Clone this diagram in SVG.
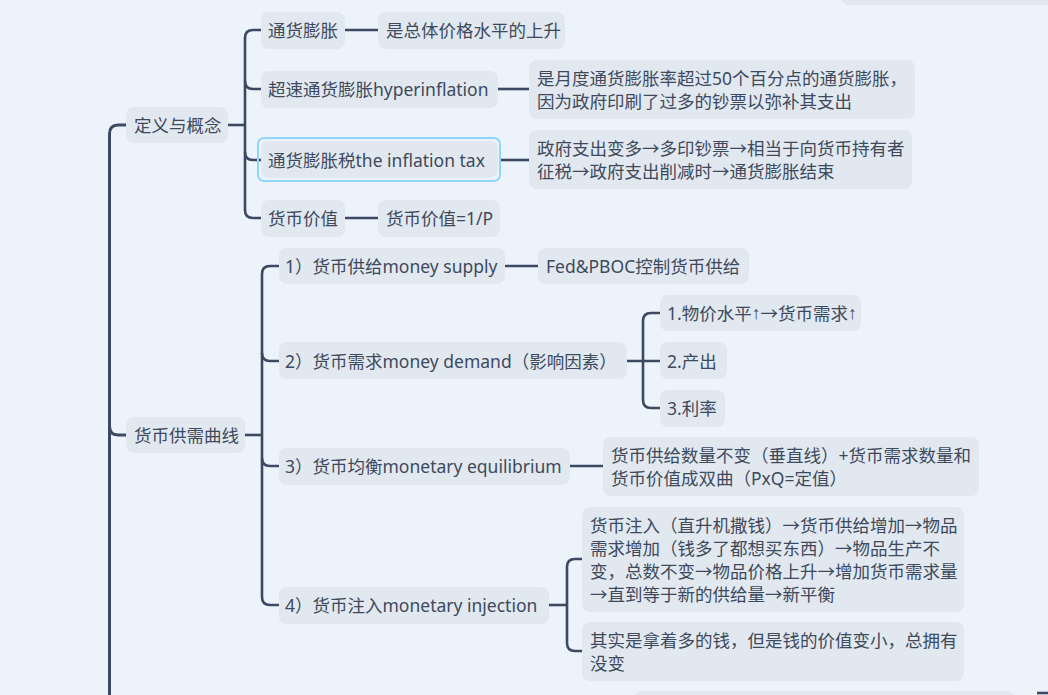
<svg xmlns="http://www.w3.org/2000/svg" width="1048" height="695" viewBox="0 0 1048 695">
<style>
.bg{fill:#ecf3fa}
.n{fill:#e1e8f0}
.t{font-family:"Noto Sans","Noto Sans CJK SC",sans-serif;font-size:17.5px;fill:#3e4a5c;dominant-baseline:central}
.ar{font-family:"Liberation Sans",sans-serif}
.c{fill:none;stroke:#3b4a62;stroke-width:2.6;stroke-linecap:butt}
.trunk{stroke-width:3}
.sel{fill:none;stroke:#8ed6fb;stroke-width:2}
</style>
<rect class="bg" x="0" y="0" width="1048" height="695"/>
<g id="connectors">
<path class="c trunk" d="M126,125 H118 Q109.5,125 109.5,134 V695"/>
<path class="c trunk" d="M109.5,426 Q109.5,435 118,435 H126"/>
<path class="c" d="M228,125 H245"/>
<path class="c" d="M261,30 H253 Q245,30 245,38 V210 Q245,218 253,218 H261"/>
<path class="c" d="M245,81 Q245,89 253,89 H261"/>
<path class="c" d="M245,152 Q245,160 253,160 H261"/>
<path class="c" d="M345,30 H378"/>
<path class="c" d="M498,89 H529"/>
<path class="c" d="M501,160 H529"/>
<path class="c" d="M345,218 H378"/>
<path class="c" d="M245,435 H262"/>
<path class="c" d="M279,266 H270 Q262,266 262,274 V597 Q262,605 270,605 H279"/>
<path class="c" d="M262,353 Q262,361 270,361 H279"/>
<path class="c" d="M262,458 Q262,466 270,466 H279"/>
<path class="c" d="M505,266 H538"/>
<path class="c" d="M627,361 H660"/>
<path class="c" d="M660,313 H651 Q643,313 643,321 V400 Q643,408 651,408 H660"/>
<path class="c" d="M570,466 H603"/>
<path class="c" d="M549,605 H567"/>
<path class="c" d="M582,559 H575 Q567,559 567,567 V643 Q567,651 575,651 H582"/>
<path class="c" d="M1037,693 H1048"/>
</g>
<g id="partial-top">
<rect class="n" x="841" y="-30" width="230" height="35" rx="8"/>
</g>
<g id="partial-bottom">
<rect class="n" x="634" y="691" width="381" height="40" rx="8"/>
</g>
<g id="n-def">
<rect class="n" x="126" y="107" width="102" height="36" rx="8"/>
<text class="t" x="134" y="125">定义与概念</text>
</g>
<g id="n-inflation">
<rect class="n" x="261" y="12" width="84" height="37" rx="8"/>
<text class="t" x="268" y="30">通货膨胀</text>
</g>
<g id="n-inflation-d">
<rect class="n" x="378" y="12" width="187" height="37" rx="8"/>
<text class="t" x="386" y="30">是总体价格水平的上升</text>
</g>
<g id="n-hyper">
<rect class="n" x="261" y="71" width="237" height="37" rx="8"/>
<text class="t" x="268" y="89">超速通货膨胀hyperinflation</text>
</g>
<g id="n-hyper-d">
<rect class="n" x="529" y="60" width="386" height="59" rx="8"/>
<text class="t" x="537" y="78">是月度通货膨胀率超过50个百分点的通货膨胀，</text>
<text class="t" x="537" y="101">因为政府印刷了过多的钞票以弥补其支出</text>
</g>
<g id="n-tax">
<rect class="n" x="261" y="141" width="237" height="37" rx="8"/>
<rect class="sel" x="258" y="138" width="242" height="43" rx="6"/>
<text class="t" x="268" y="160">通货膨胀税the inflation tax</text>
</g>
<g id="n-tax-d">
<rect class="n" x="529" y="130" width="383" height="59" rx="8"/>
<text class="t" x="537" y="148">政府支出变多→多印钞票→相当于向货币持有者</text>
<text class="t" x="537" y="171">征税→政府支出削减时→通货膨胀结束</text>
</g>
<g id="n-value">
<rect class="n" x="261" y="200" width="84" height="37" rx="8"/>
<text class="t" x="268" y="218">货币价值</text>
</g>
<g id="n-value-d">
<rect class="n" x="378" y="200" width="122" height="37" rx="8"/>
<text class="t" x="386" y="218">货币价值=1/P</text>
</g>
<g id="n-curve">
<rect class="n" x="126" y="417" width="119" height="36" rx="8"/>
<text class="t" x="134" y="435">货币供需曲线</text>
</g>
<g id="n-supply">
<rect class="n" x="279" y="248" width="226" height="36" rx="8"/>
<text class="t" x="285" y="266">1）货币供给money supply</text>
</g>
<g id="n-supply-d">
<rect class="n" x="538" y="248" width="211" height="36" rx="8"/>
<text class="t" x="546" y="266">Fed&amp;PBOC控制货币供给</text>
</g>
<g id="n-demand">
<rect class="n" x="279" y="342" width="348" height="37" rx="8"/>
<text class="t" x="285" y="361">2）货币需求money demand（影响因素）</text>
</g>
<g id="n-d1">
<rect class="n" x="660" y="295" width="201" height="36" rx="8"/>
<text class="t" x="667" y="313">1.物价水平<tspan class="ar">↑</tspan>→货币需求<tspan class="ar">↑</tspan></text>
</g>
<g id="n-d2">
<rect class="n" x="660" y="342" width="67" height="37" rx="8"/>
<text class="t" x="667" y="361">2.产出</text>
</g>
<g id="n-d3">
<rect class="n" x="660" y="390" width="65" height="37" rx="8"/>
<text class="t" x="667" y="408">3.利率</text>
</g>
<g id="n-eq">
<rect class="n" x="279" y="448" width="291" height="37" rx="8"/>
<text class="t" x="285" y="466">3）货币均衡monetary equilibrium</text>
</g>
<g id="n-eq-d">
<rect class="n" x="603" y="437" width="376" height="59" rx="8"/>
<text class="t" x="611" y="455">货币供给数量不变（垂直线）+货币需求数量和</text>
<text class="t" x="611" y="478">货币价值成双曲（PxQ=定值）</text>
</g>
<g id="n-inj">
<rect class="n" x="279" y="587" width="270" height="37" rx="8"/>
<text class="t" x="285" y="605">4）货币注入monetary injection</text>
</g>
<g id="n-inj-a">
<rect class="n" x="582" y="507" width="382" height="105" rx="8"/>
<text class="t" x="590" y="525">货币注入（直升机撒钱）→货币供给增加→物品</text>
<text class="t" x="590" y="548">需求增加（钱多了都想买东西）→物品生产不</text>
<text class="t" x="590" y="571">变，总数不变→物品价格上升→增加货币需求量</text>
<text class="t" x="590" y="594">→直到等于新的供给量→新平衡</text>
</g>
<g id="n-inj-b">
<rect class="n" x="582" y="622" width="382" height="59" rx="8"/>
<text class="t" x="590" y="640">其实是拿着多的钱，但是钱的价值变小，总拥有</text>
<text class="t" x="590" y="663">没变</text>
</g>
</svg>
